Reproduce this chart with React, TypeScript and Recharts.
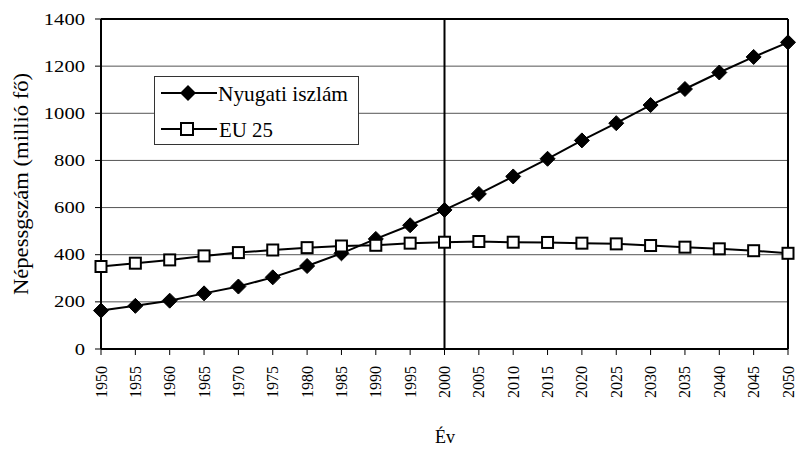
import React from "react";
import { LineChart, Line, XAxis, YAxis, CartesianGrid, ReferenceLine } from "recharts";

const years = [1950, 1955, 1960, 1965, 1970, 1975, 1980, 1985, 1990, 1995, 2000, 2005, 2010, 2015, 2020, 2025, 2030, 2035, 2040, 2045, 2050];
const nyugatiIszlam = [163, 183, 205, 236, 265, 304, 352, 406, 467, 525, 590, 658, 732, 807, 885, 958, 1035, 1103, 1173, 1239, 1301];
const eu25 = [350, 364, 378, 395, 409, 420, 430, 437, 440, 449, 453, 456, 453, 452, 449, 446, 439, 432, 425, 417, 406];
const yTicks = [0, 200, 400, 600, 800, 1000, 1200, 1400];
const seriesNames = ["Nyugati iszlám", "EU 25"];
const yLabel = "Népessgszám (millió fő)";
const xLabel = "Év";

const data = years.map((y, i) => ({ year: y, nyugati: nyugatiIszlam[i], eu: eu25[i] }));

const FONT = "Liberation Serif";

const Diamond = (props: any) => {
  const { cx, cy } = props;
  if (cx == null || cy == null) return null;
  const r = 7.5;
  return <path d={`M${cx},${cy - r}L${cx + r},${cy}L${cx},${cy + r}L${cx - r},${cy}Z`} fill="#000" stroke="#000" />;
};

const Square = (props: any) => {
  const { cx, cy } = props;
  if (cx == null || cy == null) return null;
  const s = 5.5;
  return <rect x={cx - s} y={cy - s} width={2 * s} height={2 * s} fill="#fff" stroke="#000" strokeWidth={2} />;
};

const LegendBox = () => (
  <svg width={796} height={454} style={{ position: "absolute", left: 0, top: 0, pointerEvents: "none" }}>
    <rect x={154.5} y={76.5} width={204} height={68} fill="#fff" stroke="#333" strokeWidth={1} />
    <line x1={161} y1={93} x2={217} y2={93} stroke="#000" strokeWidth={2} />
    <path d="M188,85L196,93L188,101L180,93Z" fill="#000" />
    <text x={218} y={94} dominantBaseline="central" fontFamily={FONT} fontSize={21} textLength={130} lengthAdjust="spacingAndGlyphs" fill="#000">
      {seriesNames[0]}
    </text>
    <line x1={161} y1={129} x2={217} y2={129} stroke="#000" strokeWidth={2} />
    <rect x={181} y={123} width={12} height={12} fill="#fff" stroke="#000" strokeWidth={2} />
    <text x={219} y={130} dominantBaseline="central" fontFamily={FONT} fontSize={21} textLength={54} lengthAdjust="spacingAndGlyphs" fill="#000">
      {seriesNames[1]}
    </text>
  </svg>
);

const XTick = (props: any) => {
  const { x, y, payload } = props;
  const yy = y + 9;
  return (
    <text x={x} y={yy} transform={`rotate(-90 ${x} ${yy})`} textAnchor="end" dominantBaseline="central" fontFamily={FONT} fontSize={16} textLength={32} lengthAdjust="spacingAndGlyphs" fill="#000">
      {payload.value}
    </text>
  );
};

const YTick = (props: any) => {
  const { x, y, payload } = props;
  const s = String(payload.value);
  return (
    <text x={x - 4} y={y} textAnchor="end" dominantBaseline="central" fontFamily={FONT} fontSize={17} textLength={s.length * 10.3} lengthAdjust="spacingAndGlyphs" fill="#000">
      {s}
    </text>
  );
};

const YLabel = () => (
  <text x={21} y={184} transform="rotate(-90 21 184)" textAnchor="middle" dominantBaseline="central" fontFamily={FONT} fontSize={21} textLength={222} lengthAdjust="spacingAndGlyphs" fill="#000">
    {yLabel}
  </text>
);

const XLabel = () => (
  <text x={445} y={437} textAnchor="middle" dominantBaseline="central" fontFamily={FONT} fontSize={18} fill="#000">
    {xLabel}
  </text>
);

export default function App() {
  return (
    <div style={{ position: "absolute", left: 0, top: 0, width: 796, height: 454, background: "#fff" }}>
      <LineChart width={796} height={454} data={data} margin={{ top: 19, right: 8, left: 0, bottom: 0 }}>
        <CartesianGrid horizontal={true} vertical={false} stroke="#555" strokeWidth={1} />
        <XAxis
          dataKey="year"
          type="number"
          domain={[1950, 2050]}
          ticks={years}
          interval={0}
          height={105}
          tick={<XTick />}
          tickLine={{ stroke: "#000", strokeWidth: 1 }}
          tickSize={6}
          axisLine={{ stroke: "#000", strokeWidth: 2 }}
          label={<XLabel />}
        />
        <YAxis
          domain={[0, 1400]}
          ticks={yTicks}
          interval={0}
          width={101}
          tick={<YTick />}
          tickLine={{ stroke: "#000", strokeWidth: 1 }}
          tickSize={6}
          tickMargin={6}
          axisLine={{ stroke: "#000", strokeWidth: 2 }}
          label={<YLabel />}
        />
        <ReferenceLine y={1400} stroke="#000" strokeWidth={2} />
        <ReferenceLine x={2050} stroke="#000" strokeWidth={2} />
        <ReferenceLine x={2000} stroke="#000" strokeWidth={2} />
        <Line dataKey="nyugati" name={seriesNames[0]} stroke="#000" strokeWidth={2} dot={<Diamond />} isAnimationActive={false} />
        <Line dataKey="eu" name={seriesNames[1]} stroke="#000" strokeWidth={2} dot={<Square />} isAnimationActive={false} />
      </LineChart>
      <LegendBox />
    </div>
  );
}
